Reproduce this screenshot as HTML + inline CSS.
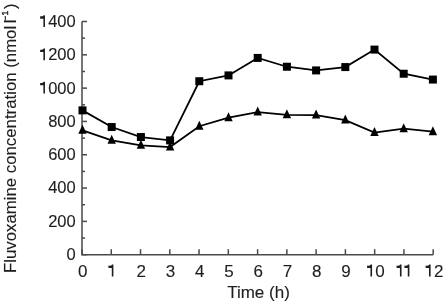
<!DOCTYPE html>
<html><head><meta charset="utf-8"><style>
html,body{margin:0;padding:0;background:#fff;width:448px;height:304px;overflow:hidden}
svg{display:block;will-change:transform}
text{font-family:"Liberation Sans",sans-serif;font-size:17px;fill:#1e1e1e;stroke:#1e1e1e;stroke-width:0.12px}
</style></head><body>
<svg width="448" height="304" viewBox="0 0 448 304">
<path d="M82.0,21.50199999999998 V254.7 H433.2" fill="none" stroke="#4a4a4a" stroke-width="1.5"/>
<path d="M82.0,254.70 h5" stroke="#4a4a4a" stroke-width="1.5"/>
<path d="M82.0,238.04 h3" stroke="#4a4a4a" stroke-width="1.5"/>
<path d="M82.0,221.39 h5" stroke="#4a4a4a" stroke-width="1.5"/>
<path d="M82.0,204.73 h3" stroke="#4a4a4a" stroke-width="1.5"/>
<path d="M82.0,188.07 h5" stroke="#4a4a4a" stroke-width="1.5"/>
<path d="M82.0,171.41 h3" stroke="#4a4a4a" stroke-width="1.5"/>
<path d="M82.0,154.76 h5" stroke="#4a4a4a" stroke-width="1.5"/>
<path d="M82.0,138.10 h3" stroke="#4a4a4a" stroke-width="1.5"/>
<path d="M82.0,121.44 h5" stroke="#4a4a4a" stroke-width="1.5"/>
<path d="M82.0,104.79 h3" stroke="#4a4a4a" stroke-width="1.5"/>
<path d="M82.0,88.13 h5" stroke="#4a4a4a" stroke-width="1.5"/>
<path d="M82.0,71.47 h3" stroke="#4a4a4a" stroke-width="1.5"/>
<path d="M82.0,54.82 h5" stroke="#4a4a4a" stroke-width="1.5"/>
<path d="M82.0,38.16 h3" stroke="#4a4a4a" stroke-width="1.5"/>
<path d="M82.0,21.50 h5" stroke="#4a4a4a" stroke-width="1.5"/>
<path d="M82.00,254.7 v-5.5" stroke="#4a4a4a" stroke-width="1.5"/>
<path d="M111.27,254.7 v-5.5" stroke="#4a4a4a" stroke-width="1.5"/>
<path d="M140.53,254.7 v-5.5" stroke="#4a4a4a" stroke-width="1.5"/>
<path d="M169.80,254.7 v-5.5" stroke="#4a4a4a" stroke-width="1.5"/>
<path d="M199.07,254.7 v-5.5" stroke="#4a4a4a" stroke-width="1.5"/>
<path d="M228.33,254.7 v-5.5" stroke="#4a4a4a" stroke-width="1.5"/>
<path d="M257.60,254.7 v-5.5" stroke="#4a4a4a" stroke-width="1.5"/>
<path d="M286.87,254.7 v-5.5" stroke="#4a4a4a" stroke-width="1.5"/>
<path d="M316.13,254.7 v-5.5" stroke="#4a4a4a" stroke-width="1.5"/>
<path d="M345.40,254.7 v-5.5" stroke="#4a4a4a" stroke-width="1.5"/>
<path d="M374.67,254.7 v-5.5" stroke="#4a4a4a" stroke-width="1.5"/>
<path d="M403.93,254.7 v-5.5" stroke="#4a4a4a" stroke-width="1.5"/>
<path d="M433.20,254.7 v-5.5" stroke="#4a4a4a" stroke-width="1.5"/>
<text x="66.52" y="260.10" style="font-size:16.5px">0</text>
<text x="48.17" y="226.79" style="font-size:16.5px">2</text>
<text x="57.35" y="226.79" style="font-size:16.5px">0</text>
<text x="66.52" y="226.79" style="font-size:16.5px">0</text>
<text x="48.17" y="193.47" style="font-size:16.5px">4</text>
<text x="57.35" y="193.47" style="font-size:16.5px">0</text>
<text x="66.52" y="193.47" style="font-size:16.5px">0</text>
<text x="48.17" y="160.16" style="font-size:16.5px">6</text>
<text x="57.35" y="160.16" style="font-size:16.5px">0</text>
<text x="66.52" y="160.16" style="font-size:16.5px">0</text>
<text x="48.17" y="126.84" style="font-size:16.5px">8</text>
<text x="57.35" y="126.84" style="font-size:16.5px">0</text>
<text x="66.52" y="126.84" style="font-size:16.5px">0</text>
<path d="M44.97,93.53 V81.78 H43.60 C43.10,83.17 41.35,82.97 40.15,82.97 V85.28 H43.40 V93.53 Z" fill="#1e1e1e"/>
<text x="48.17" y="93.53" style="font-size:16.5px">0</text>
<text x="57.35" y="93.53" style="font-size:16.5px">0</text>
<text x="66.52" y="93.53" style="font-size:16.5px">0</text>
<path d="M44.97,60.22 V48.47 H43.60 C43.10,49.86 41.35,49.66 40.15,49.66 V51.97 H43.40 V60.22 Z" fill="#1e1e1e"/>
<text x="48.17" y="60.22" style="font-size:16.5px">2</text>
<text x="57.35" y="60.22" style="font-size:16.5px">0</text>
<text x="66.52" y="60.22" style="font-size:16.5px">0</text>
<path d="M44.97,26.90 V15.15 H43.60 C43.10,16.54 41.35,16.34 40.15,16.34 V18.65 H43.40 V26.90 Z" fill="#1e1e1e"/>
<text x="48.17" y="26.90" style="font-size:16.5px">4</text>
<text x="57.35" y="26.90" style="font-size:16.5px">0</text>
<text x="66.52" y="26.90" style="font-size:16.5px">0</text>
<text x="77.97" y="276.50" style="font-size:17px">0</text>
<path d="M113.40,276.50 V264.40 H111.99 C111.49,265.82 109.63,265.62 108.43,265.62 V268.00 H111.79 V276.50 Z" fill="#1e1e1e"/>
<text x="136.51" y="276.50" style="font-size:17px">2</text>
<text x="165.77" y="276.50" style="font-size:17px">3</text>
<text x="195.04" y="276.50" style="font-size:17px">4</text>
<text x="224.31" y="276.50" style="font-size:17px">5</text>
<text x="253.57" y="276.50" style="font-size:17px">6</text>
<text x="282.84" y="276.50" style="font-size:17px">7</text>
<text x="312.11" y="276.50" style="font-size:17px">8</text>
<text x="341.37" y="276.50" style="font-size:17px">9</text>
<path d="M372.07,276.50 V264.40 H370.66 C370.16,265.82 368.30,265.62 367.10,265.62 V268.00 H370.46 V276.50 Z" fill="#1e1e1e"/>
<text x="375.37" y="276.50" style="font-size:17px">0</text>
<path d="M401.55,276.50 V264.40 H400.13 C399.63,265.82 397.78,265.62 396.58,265.62 V268.00 H399.93 V276.50 Z" fill="#1e1e1e"/>
<path d="M409.39,276.50 V264.40 H407.97 C407.47,265.82 405.62,265.62 404.42,265.62 V268.00 H407.77 V276.50 Z" fill="#1e1e1e"/>
<path d="M430.61,276.50 V264.40 H429.19 C428.69,265.82 426.83,265.62 425.63,265.62 V268.00 H428.99 V276.50 Z" fill="#1e1e1e"/>
<text x="433.90" y="276.50" style="font-size:17px">2</text>
<text x="258.5" y="297.8" text-anchor="middle">Time (h)</text>
<text transform="translate(16,273) rotate(-90)" x="0" y="0" style="font-size:16.8px">Fluvoxamine concentration (nmol<tspan dx="2.5">l</tspan><tspan font-size="8.5" dy="-8.5" dx="-0.8" style="stroke-width:0.45px">&#8722;1</tspan><tspan dy="8.5" dx="1.6">)</tspan></text>
<polyline points="82.50,110.38 111.70,127.04 140.90,137.04 170.10,140.37 199.30,81.23 228.50,75.40 257.70,57.91 286.90,66.74 316.10,70.41 345.30,67.08 374.50,49.59 403.70,73.74 432.90,79.57" fill="none" stroke="#000" stroke-width="1.8"/>
<polyline points="82.50,130.37 111.70,140.37 140.90,145.36 170.10,147.03 199.30,126.21 228.50,117.71 257.70,112.05 286.90,114.88 316.10,115.05 345.30,120.05 374.50,132.54 403.70,128.71 432.90,131.71" fill="none" stroke="#000" stroke-width="1.8"/>
<rect x="78.50" y="106.38" width="8" height="8" fill="#000"/>
<rect x="107.70" y="123.04" width="8" height="8" fill="#000"/>
<rect x="136.90" y="133.04" width="8" height="8" fill="#000"/>
<rect x="166.10" y="136.37" width="8" height="8" fill="#000"/>
<rect x="195.30" y="77.23" width="8" height="8" fill="#000"/>
<rect x="224.50" y="71.40" width="8" height="8" fill="#000"/>
<rect x="253.70" y="53.91" width="8" height="8" fill="#000"/>
<rect x="282.90" y="62.74" width="8" height="8" fill="#000"/>
<rect x="312.10" y="66.41" width="8" height="8" fill="#000"/>
<rect x="341.30" y="63.08" width="8" height="8" fill="#000"/>
<rect x="370.50" y="45.59" width="8" height="8" fill="#000"/>
<rect x="399.70" y="69.74" width="8" height="8" fill="#000"/>
<rect x="428.90" y="75.57" width="8" height="8" fill="#000"/>
<path d="M82.50,124.79 L86.70,133.79 L78.30,133.79 Z" fill="#000"/>
<path d="M111.70,134.79 L115.90,143.79 L107.50,143.79 Z" fill="#000"/>
<path d="M140.90,139.78 L145.10,148.78 L136.70,148.78 Z" fill="#000"/>
<path d="M170.10,141.45 L174.30,150.45 L165.90,150.45 Z" fill="#000"/>
<path d="M199.30,120.63 L203.50,129.63 L195.10,129.63 Z" fill="#000"/>
<path d="M228.50,112.13 L232.70,121.13 L224.30,121.13 Z" fill="#000"/>
<path d="M257.70,106.47 L261.90,115.47 L253.50,115.47 Z" fill="#000"/>
<path d="M286.90,109.30 L291.10,118.30 L282.70,118.30 Z" fill="#000"/>
<path d="M316.10,109.47 L320.30,118.47 L311.90,118.47 Z" fill="#000"/>
<path d="M345.30,114.47 L349.50,123.47 L341.10,123.47 Z" fill="#000"/>
<path d="M374.50,126.96 L378.70,135.96 L370.30,135.96 Z" fill="#000"/>
<path d="M403.70,123.13 L407.90,132.13 L399.50,132.13 Z" fill="#000"/>
<path d="M432.90,126.13 L437.10,135.13 L428.70,135.13 Z" fill="#000"/>
</svg>
</body></html>
